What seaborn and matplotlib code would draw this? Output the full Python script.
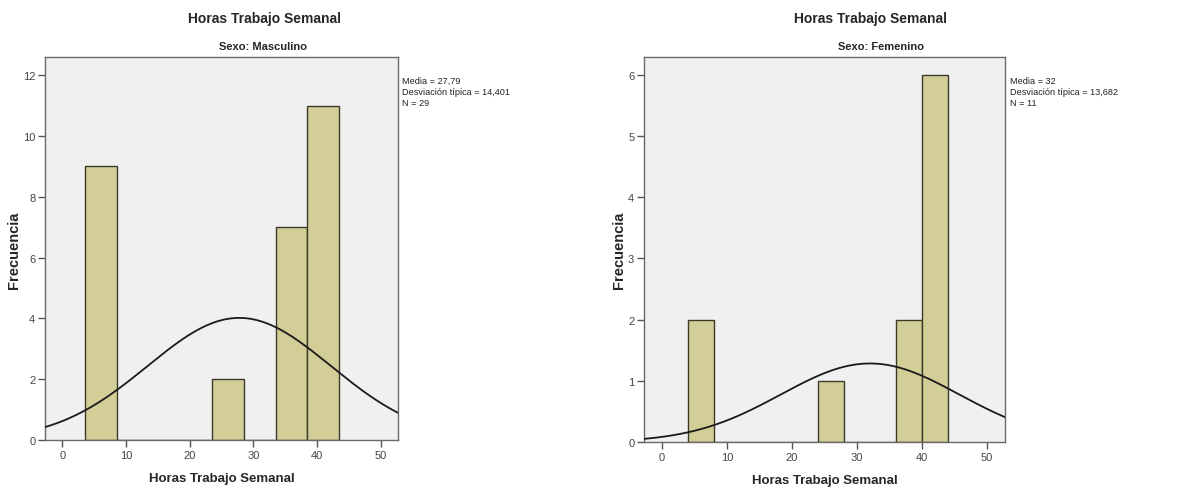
import numpy as np
import pandas as pd
import matplotlib
matplotlib.use("Agg")
import matplotlib.pyplot as plt
import seaborn as sns

# ---- data ----
m_edges = [3.5, 8.5, 13.5, 18.5, 23.5, 28.5, 33.5, 38.5, 43.5]
m_counts = [9, 0, 0, 0, 2, 0, 7, 11]
m_mean, m_sd, m_n = 27.79, 14.401, 29

f_edges = [4, 8, 12, 16, 20, 24, 28, 32, 36, 40, 44]
f_counts = [2, 0, 0, 0, 0, 1, 0, 0, 2, 6]
f_mean, f_sd, f_n = 32.0, 13.682, 11

titles = ["Horas Trabajo Semanal", "Horas Trabajo Semanal"]
subtitles = ["Sexo: Masculino", "Sexo: Femenino"]
stats_text = ["Media = 27,79\nDesviación típica = 14,401\nN = 29",
              "Media = 32\nDesviación típica = 13,682\nN = 11"]
xlabel = "Horas Trabajo Semanal"
ylabel = "Frecuencia"

sns.set_theme(style="white")
plt.rcParams['font.family'] = ['Liberation Sans', 'DejaVu Sans']

BAR = "#D3CE97"
EDGE = "#3a3a2a"
BG = "#F0F0F0"

fig = plt.figure(figsize=(11.99, 4.89), dpi=100)
ax1 = fig.add_axes([45/1199, 1-441/489, 353/1199, 383/489])
ax2 = fig.add_axes([644/1199, 1-443/489, 361/1199, 385/489])

panels = [
    (ax1, m_edges, m_counts, m_mean, m_sd, m_n, (0, 12.6), [0, 2, 4, 6, 8, 10, 12]),
    (ax2, f_edges, f_counts, f_mean, f_sd, f_n, (0, 6.29), [0, 1, 2, 3, 4, 5, 6]),
]

for i, (ax, edges, counts, mu, sd, n, ylim, yt) in enumerate(panels):
    centers = [(edges[j] + edges[j+1]) / 2 for j in range(len(counts))]
    df = pd.DataFrame({"x": centers, "w": counts})
    df = df[df["w"] > 0]
    sns.histplot(data=df, x="x", weights="w", bins=edges, ax=ax,
                 color=BAR, edgecolor=EDGE, linewidth=1.0, alpha=1.0)
    bw = edges[1] - edges[0]
    xs = np.linspace(-2.8, 52.8, 300)
    ys = n * bw * np.exp(-0.5 * ((xs - mu) / sd) ** 2) / (sd * np.sqrt(2 * np.pi))
    sns.lineplot(x=xs, y=ys, ax=ax, color="#1a1a1a", linewidth=1.3, zorder=5)
    ax.set_xlim(-2.75, 52.75)
    ax.set_ylim(*ylim)
    ax.set_facecolor(BG)
    ax.set_xticks([0, 10, 20, 30, 40, 50])
    ax.set_yticks(yt)
    ax.tick_params(axis='both', direction='out', length=5, width=1, color="#555555",
                   labelsize=8, labelcolor="#444444", pad=2, bottom=True, left=True)
    for s in ax.spines.values():
        s.set_color("#6a6a6a")
        s.set_linewidth(1.0)
    ax.set_xlabel(xlabel, fontsize=9.5, fontweight='bold', labelpad=9)
    ax.set_ylabel("")

fig.text(14/1199, 1-250/489, ylabel, rotation=90, ha='center', va='center', fontsize=10.5, fontweight='bold')
fig.text(619/1199, 1-250/489, ylabel, rotation=90, ha='center', va='center', fontsize=10.5, fontweight='bold')
fig.text(264/1199, 1-19/489, titles[0], ha='center', va='center', fontsize=10, fontweight='bold')
fig.text(870/1199, 1-19/489, titles[1], ha='center', va='center', fontsize=10, fontweight='bold')
fig.text(263/1199, 1-47/489, subtitles[0], ha='center', va='center', fontsize=8, fontweight='bold')
fig.text(881/1199, 1-47/489, subtitles[1], ha='center', va='center', fontsize=8, fontweight='bold')
fig.text(402/1199, 1-77/489, stats_text[0], ha='left', va='top', fontsize=6.6, linespacing=1.25, color="#222222")
fig.text(1010/1199, 1-77/489, stats_text[1], ha='left', va='top', fontsize=6.6, linespacing=1.25, color="#222222")

fig.savefig("out.png", dpi=100, facecolor="white")
